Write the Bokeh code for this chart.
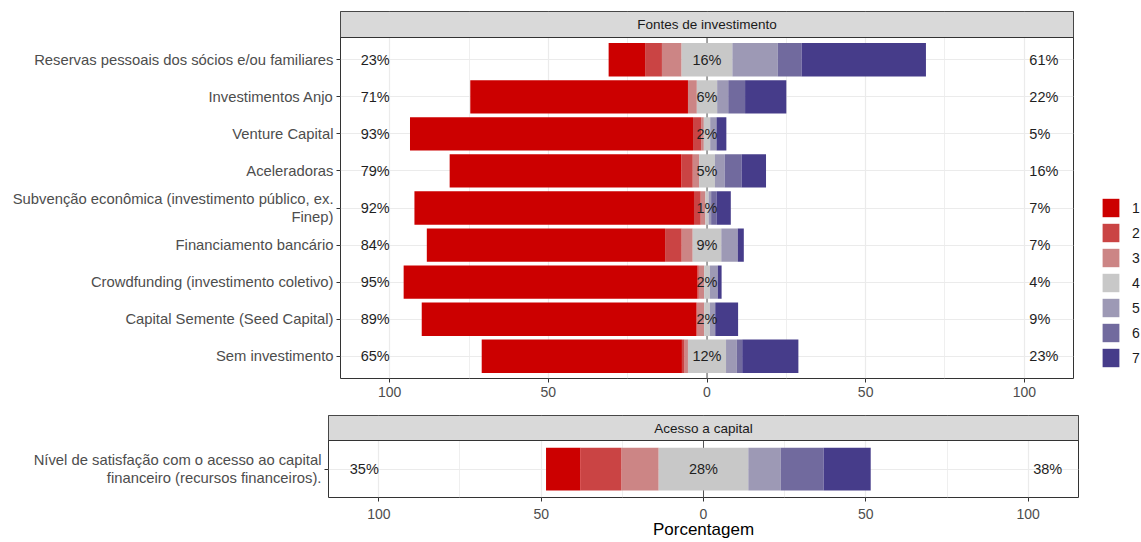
from bokeh.plotting import figure
from bokeh.models import (ColumnDataSource, FixedTicker, Range1d, Span, Legend,
                          LegendItem, Label)
from bokeh.embed import file_html
from bokeh.resources import INLINE
from bokeh.core.properties import value

# ---------------- data ----------------
levels = ["1", "2", "3", "4", "5", "6", "7"]
colors = ["#CC0000", "#CA4444", "#CC8585", "#C8C8C8", "#9D99B5", "#716A9E", "#463C8A"]

panel_a_title = "Fontes de investimento"
categories_a = [
    "Reservas pessoais dos sócios e/ou familiares",
    "Investimentos Anjo",
    "Venture Capital",
    "Aceleradoras",
    "Subvenção econômica (investimento público, ex.\nFinep)",
    "Financiamento bancário",
    "Crowdfunding (investimento coletivo)",
    "Capital Semente (Seed Capital)",
    "Sem investimento",
]
lvl1_a = [11.5, 68.6, 89.2, 73.0, 88.1, 75.1, 92.6, 86.6, 63.1]
lvl2_a = [5.3, 0.0, 2.6, 3.6, 2.1, 5.2, 0.4, 0.0, 0.8]
lvl3_a = [6.2, 2.8, 0.8, 2.0, 1.5, 3.5, 1.7, 2.4, 1.1]
lvl4_a = [16.0, 6.4, 2.0, 5.0, 1.0, 9.0, 1.8, 1.8, 12.0]
lvl5_a = [14.3, 3.5, 2.0, 3.1, 0.8, 5.2, 2.5, 1.7, 3.4]
lvl6_a = [7.5, 5.3, 0.0, 5.3, 1.7, 0.0, 0.0, 0.0, 1.7]
lvl7_a = [39.2, 13.0, 3.1, 7.7, 4.5, 1.9, 1.2, 7.2, 17.7]

panel_b_title = "Acesso a capital"
categories_b = ["Nível de satisfação com o acesso ao capital\nfinanceiro (recursos financeiros)."]
lvl1_b = [10.6]
lvl2_b = [12.6]
lvl3_b = [11.5]
lvl4_b = [27.6]
lvl5_b = [10.0]
lvl6_b = [13.2]
lvl7_b = [14.5]

x_ticks = [-100, -50, 0, 50, 100]
x_minor = [-75, -25, 25, 75]
x_title = "Porcentagem"

FONT = "Liberation Sans"
TICK_COL = "#4D4D4D"
BORDER = "#333333"
GRID = "#EBEBEB"
XR = 115.5


def stacks(cats, vals):
    n = len(cats)
    seg = dict(y=[], left=[], right=[], color=[])
    lab = dict(y=[], low=[], mid=[], high=[])
    for i in range(n):
        y = n - i
        v = [vals[k][i] for k in range(7)]
        half = v[3] / 2.0
        cur = -half
        for k in (2, 1, 0):
            seg["y"].append(y); seg["right"].append(cur); seg["left"].append(cur - v[k])
            seg["color"].append(colors[k]); cur -= v[k]
        seg["y"].append(y); seg["left"].append(-half); seg["right"].append(half)
        seg["color"].append(colors[3])
        cur = half
        for k in (4, 5, 6):
            seg["y"].append(y); seg["left"].append(cur); seg["right"].append(cur + v[k])
            seg["color"].append(colors[k]); cur += v[k]
        lab["y"].append(y)
        lab["low"].append(f"{round(v[0] + v[1] + v[2])}%")
        lab["mid"].append(f"{round(v[3])}%")
        lab["high"].append(f"{round(v[4] + v[5] + v[6])}%")
    return seg, lab


def panel(cats, vals, title, width, height, bl, br, bt, bb, strip_px, data_px,
          show_xlabel, tick_standoff, pos):
    n = len(cats)
    data_units = n + 0.2
    strip_units = strip_px * data_units / data_px
    top = n + 0.6 + strip_units
    p = figure(width=width, height=height, x_range=Range1d(-XR, XR),
               y_range=Range1d(0.4, top), output_backend="svg", toolbar_location=None,
               min_border_left=bl, min_border_right=br, min_border_top=bt,
               min_border_bottom=bb,
               styles={"position": "absolute", "left": f"{pos[0]}px", "top": f"{pos[1]}px"})
    p.outline_line_color = BORDER
    p.outline_line_width = 1
    p.background_fill_color = "white"
    p.border_fill_color = "white"

    p.xgrid.ticker = FixedTicker(ticks=x_ticks, minor_ticks=x_minor)
    p.xgrid.grid_line_color = GRID
    p.xgrid.grid_line_width = 1.2
    p.xgrid.minor_grid_line_color = GRID
    p.xgrid.minor_grid_line_width = 0.8
    p.ygrid.ticker = FixedTicker(ticks=list(range(1, n + 1)))
    p.ygrid.grid_line_color = GRID
    p.ygrid.grid_line_width = 1.2

    p.xaxis.ticker = FixedTicker(ticks=x_ticks)
    p.xaxis.major_label_overrides = {t: str(abs(t)) for t in x_ticks}
    p.yaxis.ticker = FixedTicker(ticks=list(range(1, n + 1)))
    p.yaxis.major_label_overrides = {n - i: c for i, c in enumerate(cats)}
    for ax in (p.xaxis, p.yaxis):
        ax.axis_line_color = None
        ax.major_tick_line_color = BORDER
        ax.major_tick_out = 4
        ax.major_tick_in = 0
        ax.minor_tick_line_color = None
        ax.major_label_text_font = FONT
        ax.major_label_text_color = TICK_COL
    p.xaxis.major_label_text_font_size = "14px"
    p.xaxis.major_label_standoff = tick_standoff
    p.yaxis.major_label_text_font_size = "14.8px"
    p.yaxis.major_label_text_line_height = 1.1
    p.yaxis.major_label_standoff = 3
    if show_xlabel:
        p.xaxis.axis_label = x_title
        p.xaxis.axis_label_text_font = FONT
        p.xaxis.axis_label_text_font_size = "17px"
        p.xaxis.axis_label_text_font_style = "normal"
        p.xaxis.axis_label_text_color = "#000000"
        p.xaxis.axis_label_standoff = -2

    p.add_layout(Span(location=0, dimension="height", line_color="#555555",
                      line_width=1, level="underlay"))

    seg, lab = stacks(cats, vals)
    p.hbar(y="y", left="left", right="right", height=0.9, fill_color="color",
           line_color=None, source=ColumnDataSource(seg))

    src = ColumnDataSource(dict(y=lab["y"], low=lab["low"], mid=lab["mid"], high=lab["high"],
                                xl=[-100] * n, xm=[0] * n, xh=[100] * n))
    common = dict(text_font=value(FONT), text_font_size="14.5px", text_color="#1F1F1F",
                  text_baseline="middle", source=src)
    p.text(x="xl", y="y", text="low", text_align="right", **common)
    p.text(x="xm", y="y", text="mid", text_align="center", **common)
    p.text(x="xh", y="y", text="high", text_align="left", x_offset=5, **common)

    # facet strip
    p.quad(left=[-XR], right=[XR], bottom=[n + 0.6], top=[top], fill_color="#D9D9D9",
           line_color=BORDER, line_width=1)
    p.add_layout(Label(x=0, y=n + 0.6 + strip_units / 2, text=title, text_align="center",
                       text_baseline="middle", text_font=FONT, text_font_size="13.5px",
                       text_color="#1A1A1A"))
    return p


vals_a = [lvl1_a, lvl2_a, lvl3_a, lvl4_a, lvl5_a, lvl6_a, lvl7_a]
vals_b = [lvl1_b, lvl2_b, lvl3_b, lvl4_b, lvl5_b, lvl6_b, lvl7_b]

# top panel: frame x 340..1073, strip y 11..37, data y 37..378
pA = panel(categories_a, vals_a, panel_a_title, width=1078, height=405,
           bl=340, br=5, bt=11, bb=27, strip_px=26, data_px=341, show_xlabel=False,
           tick_standoff=4, pos=(0, 0))
# bottom panel: frame x 328..1078, strip y 415..440, data y 440..497
pB = panel(categories_b, vals_b, panel_b_title, width=1080, height=137,
           bl=328, br=2, bt=10, bb=45, strip_px=25, data_px=57, show_xlabel=True,
           tick_standoff=7, pos=(0, 405))

# legend
pL = figure(width=41, height=190, x_range=Range1d(0, 1), y_range=Range1d(0, 1),
            output_backend="svg", toolbar_location=None, min_border=0,
            styles={"position": "absolute", "left": "1100px", "top": "185px"})
pL.outline_line_color = None
pL.outline_line_alpha = 0
pL.background_fill_alpha = 0
pL.border_fill_alpha = 0
pL.xaxis.visible = False
pL.yaxis.visible = False
pL.xgrid.visible = False
pL.ygrid.visible = False
items = []
for lv, c in zip(levels, colors):
    r = pL.hbar(y=[-10], left=[0], right=[1], height=1, fill_color=c, line_color=None)
    items.append(LegendItem(label=lv, renderers=[r]))
leg = Legend(items=items, location=(0, 6), glyph_width=21, glyph_height=23,
             spacing=2, padding=0, margin=0, border_line_color=None,
             background_fill_alpha=0, label_standoff=11, label_text_font=FONT,
             label_text_font_size="14px", label_text_color="#1A1A1A",
             label_height=23)
pL.add_layout(leg)

open("out.html", "w").write(file_html([pA, pB, pL], INLINE))
